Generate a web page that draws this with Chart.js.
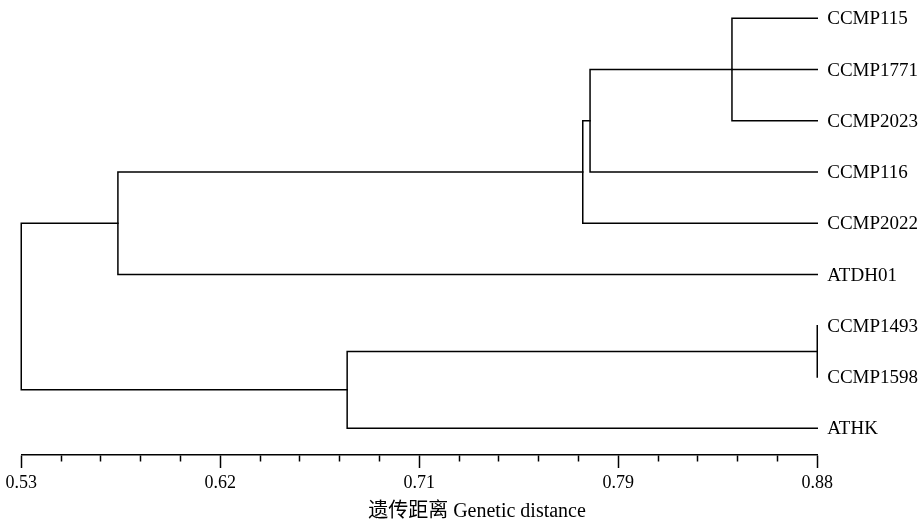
<!DOCTYPE html>
<html>
<head>
<meta charset="utf-8">
<script src="https://cdn.jsdelivr.net/npm/chart.js@4.4.1/dist/chart.umd.min.js"></script>
<style>
  html, body { margin: 0; padding: 0; background: #fff; }
  canvas { display: block; }
</style>
</head>
<body>
<canvas id="treeChart" width="923" height="523"></canvas>
<script>
// leaves, top to bottom
const leaves = ['CCMP115', 'CCMP1771', 'CCMP2023', 'CCMP116', 'CCMP2022', 'ATDH01', 'CCMP1493', 'CCMP1598', 'ATHK'];

// merges: children (leaf or earlier node) and the distance where they join
const nodeNames = ['n1', 'n2', 'n3', 'n4', 'n5', 'n6', 'root'];
const nodeChildren = [
  ['CCMP115', 'CCMP1771', 'CCMP2023'],
  ['n1', 'CCMP116'],
  ['n2', 'CCMP2022'],
  ['n3', 'ATDH01'],
  ['CCMP1493', 'CCMP1598'],
  ['n5', 'ATHK'],
  ['n4', 'n6']
];
const nodeDistance = [0.8425, 0.7801, 0.7769, 0.5725, 0.88, 0.6733, 0.53];

// axis
const leafDistance = 0.88;
const majorTicks = [0.53, 0.6175, 0.705, 0.7925, 0.88];
const tickLabels = ['0.53', '0.62', '0.71', '0.79', '0.88'];
const axisTitle = '遗传距离 Genetic distance';

const serif = '"Liberation Serif", "Times New Roman", "Noto Sans CJK SC", serif';

function branch(points) {
  return {
    data: points,
    showLine: true,
    clip: 4, // min/max are fixed so the edge lines would get cut in half otherwise
    borderColor: '#000',
    borderWidth: 1.5,
    borderCapStyle: 'square',
    borderJoinStyle: 'miter',
    pointRadius: 0,
    pointHoverRadius: 0,
    tension: 0
  };
}

// walk the merges, place each node halfway between its outer children
const pos = {};
leaves.forEach((name, i) => { pos[name] = {x: leafDistance, y: i}; });
const datasets = [];
nodeNames.forEach((name, i) => {
  const d = nodeDistance[i];
  const kids = nodeChildren[i].map(c => pos[c]);
  const ys = kids.map(k => k.y);
  pos[name] = {x: d, y: (Math.min(...ys) + Math.max(...ys)) / 2};
  const first = kids[0], last = kids[kids.length - 1];
  datasets.push(branch([
    {x: first.x, y: first.y}, {x: d, y: first.y},
    {x: d, y: last.y}, {x: last.x, y: last.y}
  ]));
  kids.slice(1, -1).forEach(k => datasets.push(branch([{x: k.x, y: k.y}, {x: d, y: k.y}])));
});

const labelPlugin = {
  id: 'leafLabels',
  afterDatasetsDraw(chart) {
    const {ctx, scales: {x, y}} = chart;
    ctx.save();
    ctx.fillStyle = '#000';
    ctx.font = '19px ' + serif;
    ctx.textAlign = 'left';
    ctx.textBaseline = 'middle';
    leaves.forEach((name, i) => {
      ctx.fillText(name, x.getPixelForValue(leafDistance) + 10, y.getPixelForValue(i) + 1);
    });
    // axis title sits right of the axis centre in the original
    ctx.font = '20px ' + serif;
    ctx.textAlign = 'center';
    ctx.fillText(axisTitle, 477, 512);
    ctx.restore();
  }
};

new Chart('treeChart', {
  type: 'scatter',
  data: {datasets: datasets},
  options: {
    responsive: false,
    animation: false,
    devicePixelRatio: 1,
    layout: {padding: {left: 21.25, right: 105.75, top: 8.05, bottom: 0}},
    plugins: {legend: {display: false}, tooltip: {enabled: false}},
    scales: {
      x: {
        type: 'linear',
        position: 'bottom',
        min: 0.53,
        max: 0.88,
        afterBuildTicks: scale => {
          const t = [];
          majorTicks.forEach((v, i) => {
            t.push({value: v});
            if (i < majorTicks.length - 1) {
              const step = (majorTicks[i + 1] - v) / 5;
              for (let k = 1; k < 5; k++) t.push({value: v + k * step});
            }
          });
          scale.ticks = t;
        },
        afterFit: scale => { scale.height = 68; },
        border: {display: true, color: '#000', width: 1.5},
        grid: {
          drawOnChartArea: false,
          drawTicks: true,
          tickLength: 13,
          tickColor: '#000',
          tickWidth: 1.5,
          tickBorderDash: ctx => ctx.index % 5 === 0 ? [] : [6, 40]
        },
        ticks: {
          autoSkip: false,
          maxRotation: 0,
          padding: 4,
          color: '#000',
          font: {family: serif, size: 18},
          callback: (value, index) => index % 5 === 0 ? tickLabels[index / 5] : ''
        }
      },
      y: {
        type: 'linear',
        reverse: true,
        min: -0.2,
        max: 8.521,
        display: false
      }
    }
  },
  plugins: [labelPlugin]
});
</script>
</body>
</html>
